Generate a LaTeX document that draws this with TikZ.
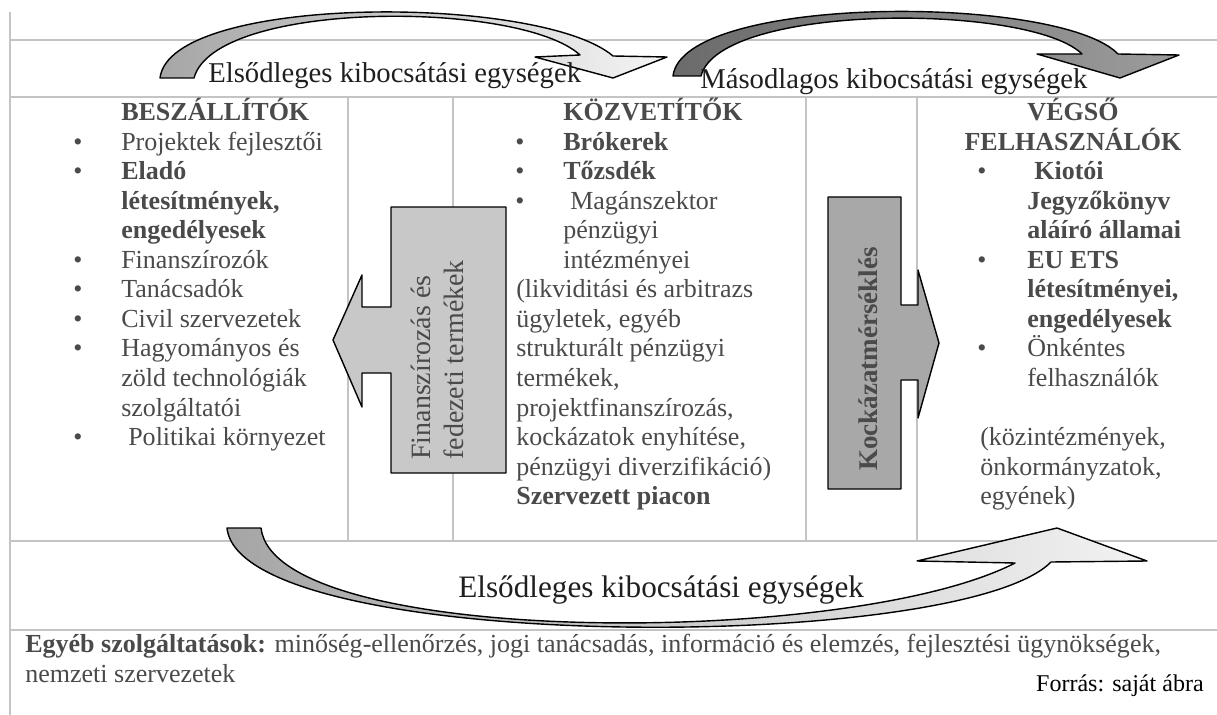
\documentclass[tikz,border=0pt]{standalone}
\usepackage{fontspec}
\setmainfont{Liberation Serif}

\definecolor{framegray}{HTML}{C4C4C4}
\definecolor{bodygray}{HTML}{4A4A4A}
\definecolor{boxlight}{HTML}{C8C8C8}
\definecolor{boxdark}{HTML}{A8A8A8}

\tikzset{
  frameline/.style={draw=framegray, line width=1pt},
  txt/.style={anchor=base west, inner sep=0pt, text=bodygray,
    font=\fontsize{18.5}{21}\selectfont},
  hd/.style={txt, font=\fontsize{18.5}{21}\selectfont\bfseries},
  bul/.style={txt, anchor=base},
  flow/.style={anchor=base west, inner sep=0pt, text=black!88,
    font=\fontsize{20.4}{24}\selectfont},
  boxtxt/.style={anchor=base west, inner sep=0pt, rotate=90, text=bodygray,
    font=\fontsize{19.9}{23}\selectfont},
  bigarrow/.style={draw=black, line width=1pt, line join=round},
}

\begin{document}
\begin{tikzpicture}[x=0.025cm, y=-0.025cm]
      \useasboundingbox (0,0) rectangle (1217,715);

      % table lines
      \draw[frameline] (10,12) -- (10,715);
      \draw[frameline] (10,40) -- (1217,40);
      \draw[frameline] (10,97) -- (1217,97);
      \draw[frameline] (10,541) -- (1217,541);
      \draw[frameline] (10,630) -- (1217,630);
      \draw[frameline] (348,97) -- (348,541);
      \draw[frameline] (453,97) -- (453,541);
      \draw[frameline] (806,97) -- (806,541);
      \draw[frameline] (917,97) -- (917,541);

      % curved arrows
      \shadedraw[bigarrow, left color=black!35, right color=black!4]
      (160,78) .. controls (170,-6) and (540,-6) .. (613,56) -- (667,57) --
      (613,78) -- (535,57) -- (580,55) .. controls (520,0) and (215,0) ..
      (194,78) -- cycle;
      \shadedraw[bigarrow, left color=black!58, right color=black!39]
      (673,76) .. controls (683,-6) and (1060,-6) .. (1118,54) -- (1179,55) --
      (1120,78) -- (1037,54) -- (1082,54) .. controls (1030,3) and (720,3) ..
      (701,76) -- cycle;
      \shadedraw[bigarrow, left color=black!35, right color=black!5]
      (227,528) .. controls (240,654) and (960,654) .. (1051,562) --
      (1147,561) -- (1057,528) -- (917,561) -- (1015,563) .. controls
      (850,648) and (275,648) .. (261,528) -- cycle;

      \node[flow] (prim) at (208,83) {Elsődleges kibocsátási egységek};
      \node[flow] (sec) at (700,89) {Másodlagos kibocsátási egységek};
      \node[flow, font=\fontsize{22.2}{26}\selectfont] (primb) at (458,597)
           {Elsődleges kibocsátási egységek};

      % block arrows
      \filldraw[bigarrow, fill=boxlight] (391,207) -- (506,207) -- (506,473) --
      (391,473) -- (391,373) -- (362,373) -- (362,407) -- (333,340) --
      (362,275) -- (362,307) -- (391,307) -- cycle;
      \filldraw[bigarrow, fill=boxdark] (828,197) -- (901,197) -- (901,305) --
      (918,305) -- (918,270) -- (939,343) -- (918,418) -- (918,380) --
      (901,380) -- (901,489) -- (828,489) -- cycle;

      \node[boxtxt] (fin1) at (430,460) {Finanszírozás és};
      \node[boxtxt] (fin2) at (463,460) {fedezeti termékek};
      \node[boxtxt, font=\fontsize{19.2}{23}\selectfont\bfseries] (risk)
           at (877,471) {Kockázatmérséklés};

      % suppliers
      \node[hd] (sup0) at (121,121) {BESZÁLLÍTÓK};
      \node[bul] (sb1) at (78,150.5) {•};
      \node[txt] (sup1) at (121,150.5) {Projektek fejlesztői};
      \node[bul] (sb2) at (78,180) {•};
      \node[hd] (sup2) at (121,180) {Eladó};
      \node[hd] (sup3) at (121,209.5) {létesítmények,};
      \node[hd] (sup4) at (121,239) {engedélyesek};
      \node[bul] (sb5) at (78,268.5) {•};
      \node[txt] (sup5) at (121,268.5) {Finanszírozók};
      \node[bul] (sb6) at (78,298) {•};
      \node[txt] (sup6) at (121,298) {Tanácsadók};
      \node[bul] (sb7) at (78,327.5) {•};
      \node[txt] (sup7) at (121,327.5) {Civil szervezetek};
      \node[bul] (sb8) at (78,357) {•};
      \node[txt] (sup8) at (121,357) {Hagyományos és};
      \node[txt] (sup9) at (121,386.5) {zöld technológiák};
      \node[txt] (sup10) at (121,416) {szolgáltatói};
      \node[bul] (sb11) at (78,445.5) {•};
      \node[txt] (sup11) at (128,445.5) {Politikai környezet};

      % intermediaries
      \node[hd] (int0) at (563,121) {KÖZVETÍTŐK};
      \node[bul] (ib1) at (520,150.5) {•};
      \node[hd] (int1) at (563,150.5) {Brókerek};
      \node[bul] (ib2) at (520,180) {•};
      \node[hd] (int2) at (563,180) {Tőzsdék};
      \node[bul] (ib3) at (520,209.5) {•};
      \node[txt] (int3) at (570,209.5) {Magánszektor};
      \node[txt] (int4) at (563,239) {pénzügyi};
      \node[txt] (int5) at (563,268.5) {intézményei};
      \node[txt] (int6) at (516,298) {(likviditási és arbitrazs};
      \node[txt] (int7) at (516,327.5) {ügyletek, egyéb};
      \node[txt] (int8) at (516,357) {strukturált pénzügyi};
      \node[txt] (int9) at (516,386.5) {termékek,};
      \node[txt] (int10) at (516,416) {projektfinanszírozás,};
      \node[txt] (int11) at (516,445.5) {kockázatok enyhítése,};
      \node[txt] (int12) at (516,475) {pénzügyi diverzifikáció)};
      \node[hd] (int13) at (516,504.5) {Szervezett piacon};

      % end users
      \node[hd, anchor=base] (end0) at (1073,121) {VÉGSŐ};
      \node[hd, anchor=base] (end1) at (1073,150.5) {FELHASZNÁLÓK};
      \node[bul] (eb2) at (982,180) {•};
      \node[hd] (end2) at (1034,180) {Kiotói};
      \node[hd] (end3) at (1027,209.5) {Jegyzőkönyv};
      \node[hd] (end4) at (1027,239) {aláíró államai};
      \node[bul] (eb5) at (982,268.5) {•};
      \node[hd] (end5) at (1027,268.5) {EU ETS};
      \node[hd] (end6) at (1027,298) {létesítményei,};
      \node[hd] (end7) at (1027,327.5) {engedélyesek};
      \node[bul] (eb8) at (982,357) {•};
      \node[txt] (end8) at (1027,357) {Önkéntes};
      \node[txt] (end9) at (1027,386.5) {felhasználók};
      \node[txt] (end11) at (980,445.5) {(közintézmények,};
      \node[txt] (end12) at (980,475) {önkormányzatok,};
      \node[txt] (end13) at (980,504.5) {egyének)};

      % footer
      \node[txt] (other1) at (25,652) {{\bfseries Egyéb szolgáltatások:}
           minőség-ellenőrzés, jogi tanácsadás, információ és elemzés,
           fejlesztési ügynökségek,};
      \node[txt] (other2) at (25,682) {nemzeti szervezetek};
      \node[anchor=base east, inner sep=0pt, font=\fontsize{17.1}{20}\selectfont]
           (src) at (1204,691) {Forrás: saját ábra};

    \end{tikzpicture}
\end{document}
